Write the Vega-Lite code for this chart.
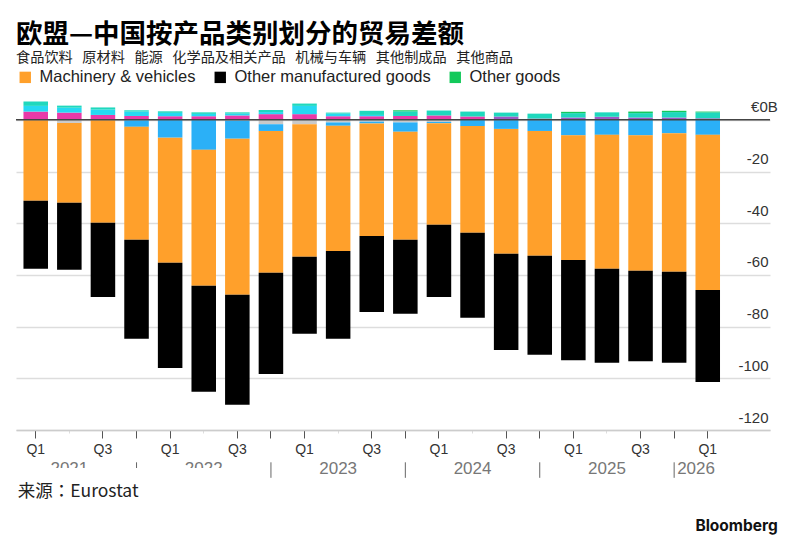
{
  "$schema": "https://vega.github.io/schema/vega-lite/v6.json",
  "width": 754,
  "height": 336,
  "autosize": "none",
  "padding": { "left": 16, "top": 94, "right": 30, "bottom": 110 },
  "background": "white",
  "config": {
    "view": { "stroke": null },
    "text": { "font": "Liberation Sans" }
  },
  "title": {
    "text": "欧盟—中国按产品类别划分的贸易差额",
    "subtitle": "食品饮料\u00a0\u00a0 原材料\u00a0\u00a0 能源\u00a0\u00a0 化学品及相关产品\u00a0\u00a0 机械与车辆\u00a0\u00a0 其他制成品\u00a0\u00a0 其他商品",
    "anchor": "start",
    "frame": "group",
    "font": "Noto Sans CJK SC",
    "fontSize": 26.5,
    "fontWeight": "bold",
    "color": "#000000",
    "subtitleFont": "Noto Sans CJK SC",
    "subtitleFontSize": 14.2,
    "subtitleColor": "#222222",
    "subtitlePadding": 2,
    "offset": 4
  },
  "datasets": {
    "trade": [
      { "quarter": "2021-Q1", "Raw materials": 3.2, "Raw materials, later": 0, "Chemicals surplus": 2.2, "Food & beverages": 1.7, "Other goods": 0, "Energy": -0.2, "Chemicals": 0, "Machinery & vehicles": -31.1, "Other manufactured goods": -26.3 },
      { "quarter": "2021-Q2", "Raw materials": 2.8, "Raw materials, later": 0, "Chemicals surplus": 1.9, "Food & beverages": 0.8, "Other goods": 0, "Energy": -1.2, "Chemicals": 0, "Machinery & vehicles": -30.9, "Other manufactured goods": -25.9 },
      { "quarter": "2021-Q3", "Raw materials": 1.9, "Raw materials, later": 0, "Chemicals surplus": 2.1, "Food & beverages": 0.8, "Other goods": 0, "Energy": -0.2, "Chemicals": 0, "Machinery & vehicles": -39.6, "Other manufactured goods": -28.7 },
      { "quarter": "2021-Q4", "Raw materials": 1.5, "Raw materials, later": 0, "Chemicals surplus": 1.7, "Food & beverages": 0.5, "Other goods": 0, "Energy": -0.2, "Chemicals": -2.5, "Machinery & vehicles": -43.7, "Other manufactured goods": -38.3 },
      { "quarter": "2022-Q1", "Raw materials": 1.4, "Raw materials, later": 0, "Chemicals surplus": 1.3, "Food & beverages": 0.6, "Other goods": 0, "Energy": -0.1, "Chemicals": -6.8, "Machinery & vehicles": -48.4, "Other manufactured goods": -40.7 },
      { "quarter": "2022-Q2", "Raw materials": 1.4, "Raw materials, later": 0, "Chemicals surplus": 0.9, "Food & beverages": 0.6, "Other goods": 0, "Energy": -0.1, "Chemicals": -11.5, "Machinery & vehicles": -52.6, "Other manufactured goods": -41 },
      { "quarter": "2022-Q3", "Raw materials": 1.7, "Raw materials, later": 0, "Chemicals surplus": 0.7, "Food & beverages": 0.5, "Other goods": 0, "Energy": -0.3, "Chemicals": -7, "Machinery & vehicles": -60.4, "Other manufactured goods": -42.5 },
      { "quarter": "2022-Q4", "Raw materials": 2.2, "Raw materials, later": 0, "Chemicals surplus": 0.8, "Food & beverages": 0.8, "Other goods": 0, "Energy": -1.7, "Chemicals": -2.6, "Machinery & vehicles": -54.9, "Other manufactured goods": -39.1 },
      { "quarter": "2023-Q1", "Raw materials": 2.2, "Raw materials, later": 0, "Chemicals surplus": 3.2, "Food & beverages": 0.9, "Other goods": 0, "Energy": -1.7, "Chemicals": 0, "Machinery & vehicles": -51.3, "Other manufactured goods": -29.8 },
      { "quarter": "2023-Q2", "Raw materials": 1.4, "Raw materials, later": 0, "Chemicals surplus": 1, "Food & beverages": 0.4, "Other goods": 0, "Energy": -1, "Chemicals": -1.3, "Machinery & vehicles": -48.4, "Other manufactured goods": -34 },
      { "quarter": "2023-Q3", "Raw materials": 1.4, "Raw materials, later": 0, "Chemicals surplus": 0.5, "Food & beverages": 1.6, "Other goods": 0, "Energy": -0.7, "Chemicals": -0.7, "Machinery & vehicles": -43.5, "Other manufactured goods": -29.4 },
      { "quarter": "2023-Q4", "Raw materials": 1.5, "Raw materials, later": 0, "Chemicals surplus": 0, "Food & beverages": 1.8, "Other goods": 0.4, "Energy": -1, "Chemicals": -3.6, "Machinery & vehicles": -41.8, "Other manufactured goods": -28.6 },
      { "quarter": "2024-Q1", "Raw materials": 1.7, "Raw materials, later": 0, "Chemicals surplus": 0, "Food & beverages": 1.9, "Other goods": 0, "Energy": -0.8, "Chemicals": -0.5, "Machinery & vehicles": -39.3, "Other manufactured goods": -27.9 },
      { "quarter": "2024-Q2", "Raw materials": 1.3, "Raw materials, later": 0, "Chemicals surplus": 0, "Food & beverages": 1.9, "Other goods": 0, "Energy": -0.1, "Chemicals": -2.3, "Machinery & vehicles": -41.3, "Other manufactured goods": -32.9 },
      { "quarter": "2024-Q3", "Raw materials": 0, "Raw materials, later": 1.3, "Chemicals surplus": 0, "Food & beverages": 1.5, "Other goods": 0, "Energy": -0.1, "Chemicals": -3.4, "Machinery & vehicles": -48.3, "Other manufactured goods": -37.2 },
      { "quarter": "2024-Q4", "Raw materials": 0, "Raw materials, later": 0.5, "Chemicals surplus": 0, "Food & beverages": 1.9, "Other goods": 0, "Energy": -0.1, "Chemicals": -4.2, "Machinery & vehicles": -48.3, "Other manufactured goods": -38.3 },
      { "quarter": "2025-Q1", "Raw materials": 0, "Raw materials, later": 0.9, "Chemicals surplus": 0, "Food & beverages": 1.7, "Other goods": 0.5, "Energy": 0, "Chemicals": -6, "Machinery & vehicles": -48.2, "Other manufactured goods": -38.8 },
      { "quarter": "2025-Q2", "Raw materials": 0, "Raw materials, later": 1.2, "Chemicals surplus": 0, "Food & beverages": 1.7, "Other goods": 0, "Energy": 0, "Chemicals": -5.8, "Machinery & vehicles": -51.8, "Other manufactured goods": -36.4 },
      { "quarter": "2025-Q3", "Raw materials": 0, "Raw materials, later": 0.9, "Chemicals surplus": 0, "Food & beverages": 1.7, "Other goods": 0.6, "Energy": 0, "Chemicals": -6, "Machinery & vehicles": -52.4, "Other manufactured goods": -35 },
      { "quarter": "2025-Q4", "Raw materials": 0, "Raw materials, later": 0.9, "Chemicals surplus": 0, "Food & beverages": 2.1, "Other goods": 0.5, "Energy": 0, "Chemicals": -5.2, "Machinery & vehicles": -53.6, "Other manufactured goods": -35.2 },
      { "quarter": "2026-Q1", "Raw materials": 0, "Raw materials, later": 0.6, "Chemicals surplus": 0, "Food & beverages": 2.3, "Other goods": 0.3, "Energy": 0, "Chemicals": -5.8, "Machinery & vehicles": -60, "Other manufactured goods": -35.6 }
    ],
    "years": [
      { "quarter": "2021-Q2", "year": "2021" },
      { "quarter": "2022-Q2", "year": "2022" },
      { "quarter": "2023-Q2", "year": "2023" },
      { "quarter": "2024-Q2", "year": "2024" },
      { "quarter": "2025-Q2", "year": "2025" }
    ],
    "separators": [
      { "quarter": "2021-Q4" },
      { "quarter": "2022-Q4" },
      { "quarter": "2023-Q4" },
      { "quarter": "2024-Q4" },
      { "quarter": "2025-Q4" }
    ],
    "one": [{}]
  },
  "layer": [
    {
      "data": { "name": "trade" },
      "transform": [
        {
          "fold": ["Raw materials", "Raw materials, later", "Chemicals surplus", "Food & beverages", "Other goods", "Energy", "Chemicals", "Machinery & vehicles", "Other manufactured goods"],
          "as": ["series", "value"]
        },
        {
          "calculate": "indexof(['Raw materials', 'Raw materials, later', 'Chemicals surplus', 'Food & beverages', 'Other goods', 'Energy', 'Chemicals', 'Machinery & vehicles', 'Other manufactured goods'], datum.series)",
          "as": "rank"
        }
      ],
      "mark": { "type": "bar", "stroke": null },
      "encoding": {
        "x": {
          "field": "quarter",
          "type": "ordinal",
          "scale": { "type": "band", "paddingInner": 0.27, "paddingOuter": 0.855, "align": 0.13 },
          "axis": {
            "title": null,
            "labelAngle": 0,
            "labelOverlap": false,
            "labelExpr": "slice(datum.label, 5) == 'Q1' || slice(datum.label, 5) == 'Q3' ? slice(datum.label, 5) : ''",
            "labelFont": "Liberation Sans",
            "labelFontSize": 14,
            "labelColor": "#333333",
            "labelPadding": 4,
            "domainColor": "#cccccc",
            "domainWidth": 1.5,
            "tickSize": { "condition": { "test": "slice(datum.label, 5) == 'Q2'", "value": 3 }, "value": 8 },
            "tickColor": { "condition": { "test": "slice(datum.label, 5) == 'Q2'", "value": "#dddddd" }, "value": "#555555" }
          }
        },
        "y": {
          "field": "value",
          "type": "quantitative",
          "stack": "zero",
          "scale": { "domain": [-120, 10], "nice": false },
          "axis": {
            "title": null,
            "orient": "right",
            "values": [0, -20, -40, -60, -80, -100, -120],
            "labelExpr": "datum.value == 0 ? '' : datum.value",
            "labelAlign": "right",
            "labelPadding": -2,
            "labelOffset": -13,
            "labelFont": "Liberation Sans",
            "labelFontSize": 15,
            "labelColor": "#333333",
            "domain": false,
            "ticks": false,
            "grid": true,
            "gridColor": "#dddddd",
            "gridWidth": 1.5
          }
        },
        "color": {
          "field": "series",
          "type": "nominal",
          "scale": {
            "domain": ["Raw materials", "Raw materials, later", "Chemicals surplus", "Food & beverages", "Other goods", "Energy", "Chemicals", "Machinery & vehicles", "Other manufactured goods"],
            "range": ["#e93aa8", "#9b59c5", "#25d9f2", "#1fd8bd", "#12c95a", "#c9c9c9", "#2bb0f7", "#ffa02b", "#000000"]
          },
          "legend": {
            "title": null,
            "values": ["Machinery & vehicles", "Other manufactured goods", "Other goods"],
            "orient": "none",
            "direction": "horizontal",
            "columns": 3,
            "legendX": 1,
            "legendY": -25,
            "symbolType": "square",
            "symbolSize": 130,
            "symbolStrokeWidth": 0,
            "labelFont": "Liberation Sans",
            "labelFontSize": 16.5,
            "labelColor": "#222222",
            "labelLimit": 300,
            "columnPadding": 16,
            "labelOffset": 6
          }
        },
        "order": { "field": "rank", "type": "quantitative" }
      }
    },
    {
      "data": { "name": "one" },
      "mark": { "type": "rule", "color": "#444444", "strokeWidth": 1.5 },
      "encoding": { "y": { "datum": 0 } }
    },
    {
      "data": { "name": "one" },
      "mark": { "type": "text", "align": "right", "dx": 70, "dy": -13, "fontSize": 15, "color": "#333333", "font": "Liberation Sans", "text": "€0B" },
      "encoding": {
        "x": { "datum": "2026-Q1" },
        "y": { "datum": 0 }
      }
    },
    {
      "data": { "name": "separators" },
      "mark": { "type": "rule", "color": "#666666", "strokeWidth": 1 },
      "encoding": {
        "x": { "field": "quarter", "type": "ordinal" },
        "y": { "datum": -132.5 },
        "y2": { "datum": -138.5 }
      }
    },
    {
      "data": { "name": "years" },
      "mark": { "type": "text", "fontSize": 17, "color": "#777777", "font": "Liberation Sans" },
      "encoding": {
        "x": { "field": "quarter", "type": "ordinal" },
        "y": { "datum": -135 },
        "text": { "field": "year" }
      }
    },
    {
      "data": { "name": "one" },
      "mark": { "type": "text", "align": "left", "dx": 3, "fontSize": 17, "color": "#777777", "font": "Liberation Sans", "text": "2026" },
      "encoding": {
        "x": { "datum": "2025-Q4" },
        "y": { "datum": -135 }
      }
    },
    {
      "data": { "name": "one" },
      "mark": { "type": "rect", "color": "white" },
      "encoding": {
        "x": { "datum": "2021-Q1" },
        "x2": { "datum": "2022-Q3" },
        "y": { "datum": -134.7 },
        "y2": { "datum": -140 }
      }
    },
    {
      "data": { "name": "one" },
      "mark": { "type": "text", "align": "left", "dx": -18, "fontSize": 17.5, "color": "#222222", "font": "Noto Sans CJK TC", "text": "来源：Eurostat" },
      "encoding": {
        "x": { "datum": "2021-Q1" },
        "y": { "datum": -143.8 }
      }
    },
    {
      "data": { "name": "one" },
      "mark": { "type": "text", "align": "right", "dx": 70, "fontSize": 15.5, "fontWeight": "bold", "color": "#111111", "font": "Inter", "text": "Bloomberg" },
      "encoding": {
        "x": { "datum": "2026-Q1" },
        "y": { "datum": -157 }
      }
    }
  ]
}
